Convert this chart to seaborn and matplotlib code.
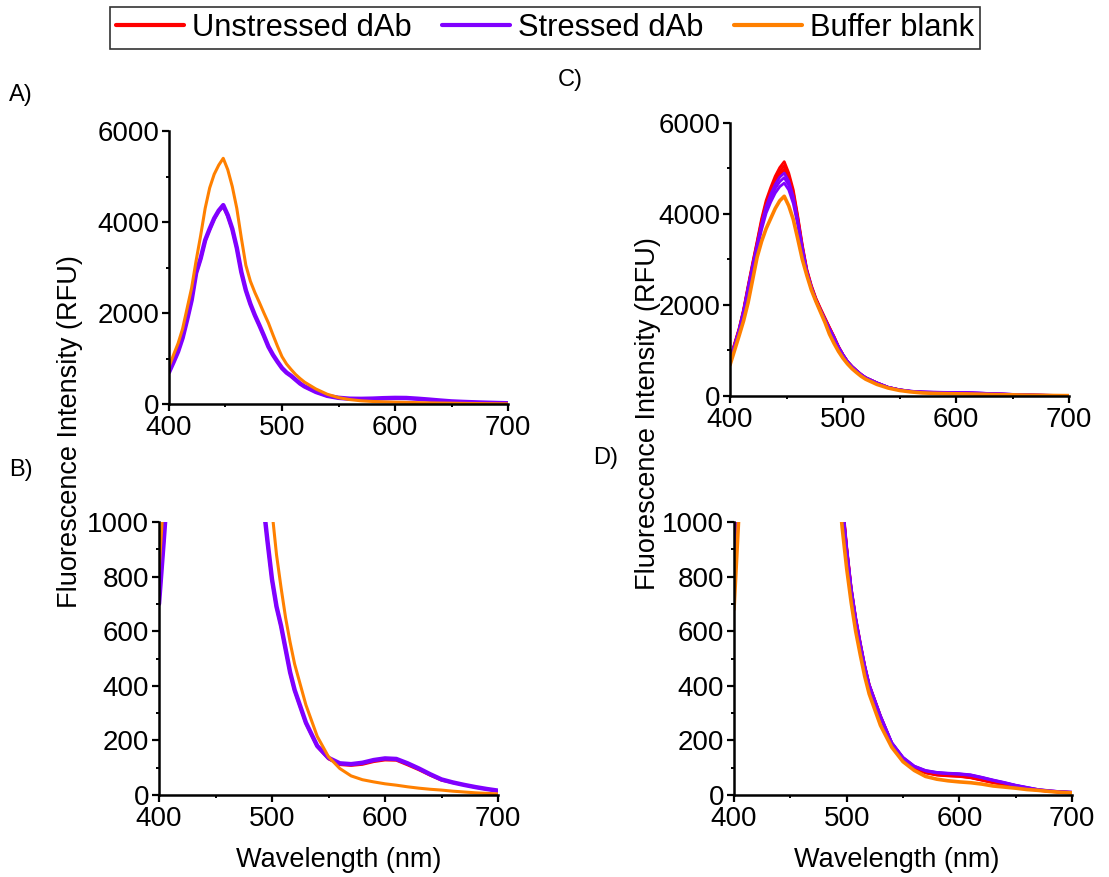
import matplotlib
matplotlib.use("Agg")
import numpy as np
import pandas as pd
import matplotlib.pyplot as plt
from matplotlib.lines import Line2D
from matplotlib.ticker import MultipleLocator
import seaborn as sns

# Emission wavelengths (nm)
wavelength = [400, 404, 408, 412, 416, 420, 424, 428, 432, 436, 440, 444, 448, 452, 456,
              460, 464, 468, 472, 476, 480, 484, 488, 492, 496, 500, 504, 508, 512, 516,
              520, 530, 540, 550, 560, 570, 580, 590, 600, 610, 620, 630, 640, 650, 660,
              670, 680, 690, 700]

# ---- Left column (A / B) ----
left_unstressed = [700, 915, 1145, 1440, 1840, 2270, 2860, 3180, 3580, 3830, 4060, 4230, 4340, 4120, 3830,
                   3410, 2890, 2490, 2190, 1940, 1720, 1490, 1255, 1075, 925, 785, 686, 616, 532, 447,
                   382, 262, 177, 132, 111, 108, 112, 122, 128, 127, 110, 92, 72, 54, 45,
                   37, 28, 21, 15]
left_stressed = [700, 920, 1150, 1450, 1850, 2280, 2880, 3200, 3600, 3850, 4080, 4250, 4370, 4150, 3850,
                 3430, 2900, 2500, 2200, 1950, 1730, 1500, 1260, 1080, 930, 790, 690, 620, 535, 450,
                 385, 265, 180, 136, 116, 113, 118, 128, 134, 132, 116, 97, 76, 57, 46,
                 37, 29, 22, 16]
left_blank = [820, 1080, 1330, 1650, 2100, 2550, 3150, 3700, 4300, 4750, 5050, 5250, 5400, 5150, 4780,
              4300, 3650, 3050, 2700, 2450, 2230, 2000, 1780, 1520, 1270, 1040, 880, 760, 650, 560,
              480, 330, 215, 140, 97, 70, 56, 48, 41, 36, 30, 25, 21, 18, 14,
              11, 8, 6, 4]

# ---- Right column (C / D) ----
right_unstressed_1 = [800, 1150, 1480, 1900, 2420, 2920, 3400, 3900, 4300, 4580, 4830, 5020, 5150, 4900, 4530,
                      3950, 3320, 2780, 2430, 2150, 1930, 1720, 1510, 1310, 1090, 910, 760, 650, 560, 475,
                      405, 290, 190, 135, 100, 83, 75, 72, 70, 65, 56, 47, 40, 32, 24,
                      18, 14, 11, 9]
right_unstressed_2 = [780, 1130, 1460, 1880, 2390, 2890, 3370, 3850, 4240, 4510, 4750, 4940, 5060, 4830, 4470,
                      3910, 3290, 2760, 2410, 2130, 1910, 1700, 1500, 1300, 1080, 905, 755, 645, 555, 470,
                      402, 287, 189, 134, 99, 82, 74, 71, 69, 64, 55, 46, 39, 31, 24,
                      18, 14, 11, 9]
right_unstressed_3 = [770, 1120, 1450, 1860, 2370, 2860, 3330, 3800, 4180, 4450, 4680, 4870, 4980, 4760, 4420,
                      3870, 3260, 2740, 2390, 2120, 1900, 1690, 1490, 1290, 1075, 900, 750, 642, 552, 468,
                      400, 285, 188, 133, 98, 81, 73, 70, 68, 63, 54, 45, 38, 31, 23,
                      17, 13, 10, 8]
right_stressed_1 = [760, 1110, 1450, 1870, 2380, 2870, 3330, 3790, 4170, 4430, 4650, 4810, 4900, 4720, 4380,
                    3860, 3260, 2740, 2390, 2110, 1890, 1680, 1480, 1290, 1075, 905, 758, 648, 558, 474,
                    404, 290, 192, 138, 106, 90, 83, 80, 78, 74, 65, 55, 46, 36, 28,
                    20, 16, 12, 10]
right_stressed_2 = [750, 1100, 1440, 1850, 2350, 2830, 3280, 3730, 4100, 4350, 4560, 4710, 4800, 4630, 4310,
                    3810, 3230, 2720, 2375, 2100, 1880, 1670, 1470, 1280, 1070, 900, 755, 645, 555, 472,
                    402, 288, 191, 137, 105, 89, 82, 79, 77, 73, 64, 54, 45, 35, 27,
                    20, 15, 12, 10]
right_stressed_3 = [740, 1090, 1420, 1830, 2320, 2790, 3230, 3660, 4020, 4260, 4460, 4600, 4680, 4530, 4230,
                    3760, 3200, 2700, 2360, 2090, 1870, 1660, 1460, 1270, 1065, 895, 752, 642, 552, 470,
                    400, 287, 190, 136, 104, 88, 81, 78, 76, 72, 63, 53, 44, 35, 27,
                    19, 15, 12, 10]
right_blank = [680, 1000, 1320, 1650, 2050, 2550, 3050, 3400, 3680, 3900, 4120, 4290, 4390, 4180, 3880,
               3450, 3000, 2650, 2330, 2080, 1850, 1620, 1360, 1160, 980, 830, 705, 600, 515, 435,
               370, 255, 175, 122, 90, 68, 58, 52, 48, 45, 40, 33, 29, 25, 20,
               17, 13, 10, 8]

conditions = ["Unstressed dAb", "Stressed dAb", "Buffer blank"]
colors = {"Unstressed dAb": "#FF0000", "Stressed dAb": "#8000FF", "Buffer blank": "#FF8000"}


def long_frame(series_by_condition):
    parts = []
    for cond, reps in series_by_condition.items():
        for i, values in enumerate(reps):
            parts.append(pd.DataFrame({"wavelength": wavelength, "intensity": values,
                                       "condition": cond, "replicate": i}))
    return pd.concat(parts, ignore_index=True)


df_left = long_frame({
    "Unstressed dAb": [left_unstressed],
    "Stressed dAb": [left_stressed],
    "Buffer blank": [left_blank],
})
df_right = long_frame({
    "Unstressed dAb": [right_unstressed_1, right_unstressed_2, right_unstressed_3],
    "Stressed dAb": [right_stressed_1, right_stressed_2, right_stressed_3],
    "Buffer blank": [right_blank],
})

sns.set_style("ticks")
plt.rcParams["font.family"] = ["Liberation Sans", "DejaVu Sans"]
for key in ("text.color", "axes.labelcolor", "xtick.color", "ytick.color", "axes.edgecolor"):
    plt.rcParams[key] = "black"

W, H = 1109, 877
fig = plt.figure(figsize=(W / 100, H / 100), dpi=100)


def add_axes(left, top, right, bottom):
    return fig.add_axes([left / W, 1 - bottom / H, (right - left) / W, (bottom - top) / H])


def draw(ax, df, widths, ymax, ymajor):
    for cond in conditions:
        sub = df[df["condition"] == cond]
        sns.lineplot(data=sub, x="wavelength", y="intensity", units="replicate",
                     estimator=None, color=colors[cond], linewidth=widths[cond],
                     ax=ax, legend=False)
    ax.set_xlim(400, 700)
    ax.set_ylim(0, ymax)
    ax.xaxis.set_major_locator(MultipleLocator(100))
    ax.xaxis.set_minor_locator(MultipleLocator(50))
    ax.yaxis.set_major_locator(MultipleLocator(ymajor))
    ax.yaxis.set_minor_locator(MultipleLocator(ymajor / 2))
    ax.set_xlabel("")
    ax.set_ylabel("")
    sns.despine(ax=ax)
    for side in ("left", "bottom"):
        ax.spines[side].set_linewidth(1.8)
        ax.spines[side].set_color("black")
    ax.tick_params(which="major", direction="out", length=5, width=1.6,
                   labelsize=20, pad=2, color="black", labelcolor="black")
    ax.tick_params(which="minor", direction="out", length=2.5, width=1.4, color="black")
    ax.tick_params(axis="x", which="major", pad=3)
    ax.patch.set_alpha(0)


left_widths = {"Unstressed dAb": 2.0, "Stressed dAb": 3.2, "Buffer blank": 2.2}
right_widths = {"Unstressed dAb": 2.0, "Stressed dAb": 2.0, "Buffer blank": 2.6}

ax_a = add_axes(169, 131, 508, 404)
ax_b = add_axes(159, 522, 498, 795)
ax_c = add_axes(730, 123, 1069, 396)
ax_d = add_axes(734, 522, 1072, 795)

draw(ax_a, df_left, left_widths, 6000, 2000)
draw(ax_b, df_left, left_widths, 1000, 200)
draw(ax_c, df_right, right_widths, 6000, 2000)
draw(ax_d, df_right, right_widths, 1000, 200)

# Panel letters
for letter, (px, py) in {"A)": (21, 95), "B)": (21, 470), "C)": (570, 80), "D)": (606, 458)}.items():
    fig.text(px / W, 1 - py / H, letter, fontsize=17, ha="center", va="center")

# Shared axis titles
fig.text(70 / W, 1 - 432 / H, "Fluorescence Intensity (RFU)", rotation=90,
         fontsize=19.5, ha="center", va="center")
fig.text(648 / W, 1 - 414 / H, "Fluorescence Intensity (RFU)", rotation=90,
         fontsize=19.5, ha="center", va="center")
fig.text(339 / W, 1 - 860 / H, "Wavelength (nm)", fontsize=19.5, ha="center", va="center")
fig.text(897 / W, 1 - 860 / H, "Wavelength (nm)", fontsize=19.5, ha="center", va="center")

handles = [Line2D([], [], color=colors[c], linewidth=3) for c in conditions]
leg = fig.legend(handles, conditions, loc="center", bbox_to_anchor=(545 / W, 1 - 28 / H),
                 ncol=3, fontsize=22.2, frameon=True, fancybox=False, edgecolor="black",
                 handlelength=2.2, handletextpad=0.26, columnspacing=1.0, borderpad=0.2,
                 borderaxespad=0)
leg.get_frame().set_linewidth(1.2)

fig.savefig("out.png", dpi=100)
